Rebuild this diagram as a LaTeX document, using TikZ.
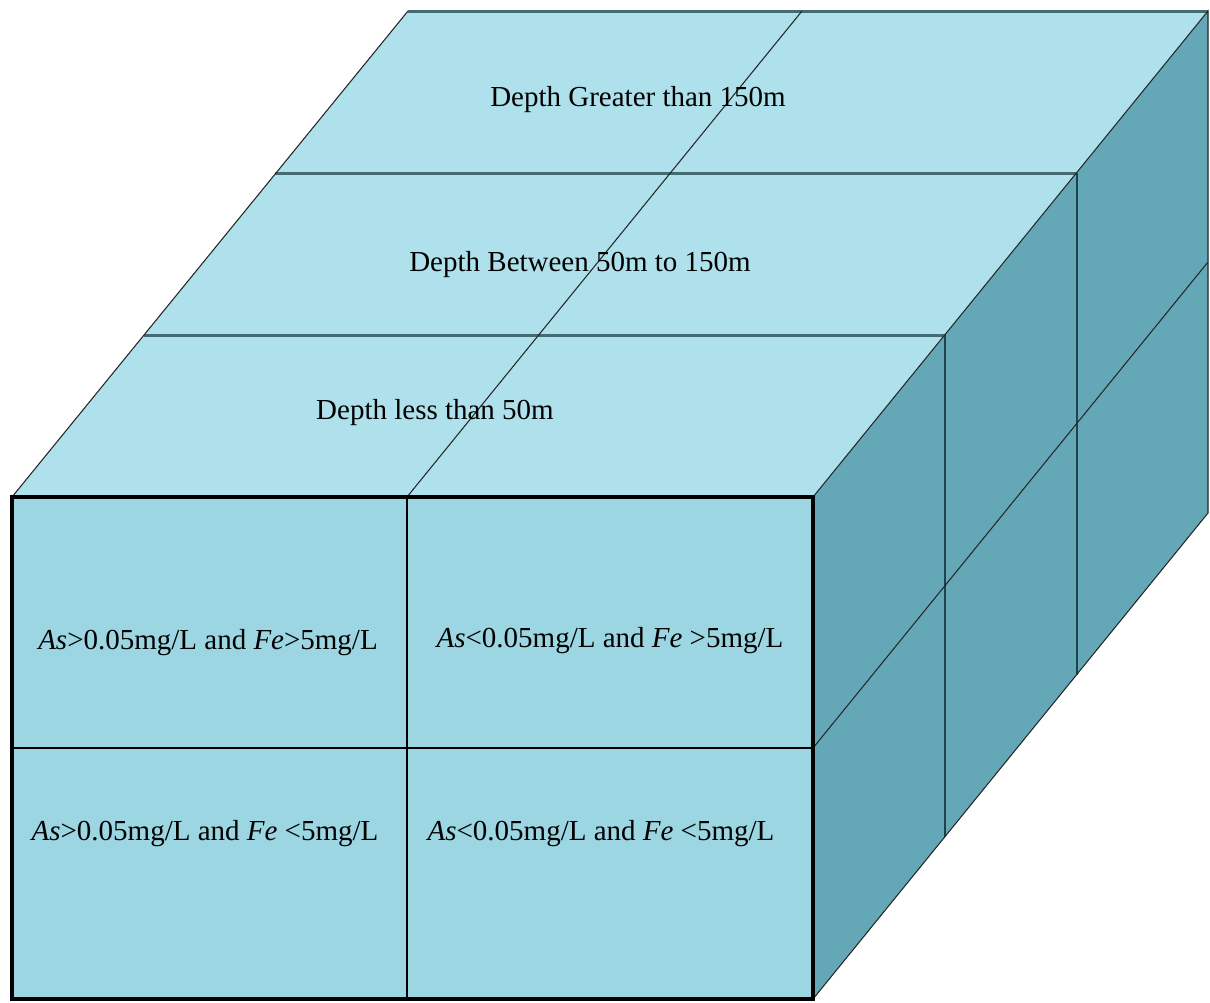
\documentclass[tikz,border=0pt]{standalone}
\usepackage{fontspec}
\setmainfont{Liberation Serif}
\usepackage{xcolor}
\definecolor{topblue}{RGB}{174,225,235}
\definecolor{frontblue}{RGB}{156,214,226}
\definecolor{sideblue}{RGB}{100,168,184}
\definecolor{rowteal}{RGB}{66,108,114}
\definecolor{darkteal}{RGB}{28,68,74}

\begin{document}
\begin{tikzpicture}[x=0.02cm, y=-0.02cm,
    topface/.style={fill=topblue, draw=none},
    sideface/.style={fill=sideblue, draw=none},
    frontface/.style={fill=frontblue, draw=none},
    rowline/.style={draw=rowteal, line width=1.7pt},
    diagline/.style={draw=black!85, line width=0.6pt},
    colline/.style={draw=darkteal, line width=1.2pt},
    gridline/.style={draw=black, line width=1pt},
    frontframe/.style={draw=black, line width=2.8pt, line join=miter},
    lbl/.style={font=\fontsize{16.5}{19}\selectfont, inner sep=0pt}
]
    \useasboundingbox[fill=white] (0,0) rectangle (1210,1002);

    % Corners of the block
    \coordinate (ftl) at (12,497);
    \coordinate (ftr) at (813,497);
    \coordinate (fbl) at (12,999);
    \coordinate (fbr) at (813,999);
    \coordinate (btl) at (408,11);
    \coordinate (btr) at (1208,11);
    \coordinate (bbr) at (1208,513);

    % Faces
    \path[sideface] (ftr) -- (btr) -- (bbr) -- (fbr) -- cycle;
    \path[topface] (ftl) -- (btl) -- (btr) -- (ftr) -- cycle;
    \path[frontface] (ftl) rectangle (fbr);

    % Depth layers on top face
    \coordinate (r1l) at (144,335);
    \coordinate (r1r) at (945,335);
    \coordinate (r2l) at (275,173);
    \coordinate (r2r) at (1077,173);
    \draw[rowline] (btl) -- (btr);
    \draw[rowline] (r2l) -- (r2r);
    \draw[rowline] (r1l) -- (r1r);

    % Layers seen on the side face
    \coordinate (c1b) at (945,837);
    \coordinate (c2b) at (1077,675);
    \draw[colline] (r1r) -- (c1b);
    \draw[colline] (r2r) -- (c2b);

    % Receding edges
    \coordinate (fmt) at (407,497);
    \coordinate (bmt) at (802,11);
    \coordinate (fmr) at (813,748);
    \coordinate (bmr) at (1208,262);
    \draw[diagline] (ftl) -- (btl);
    \draw[diagline] (fmt) -- (bmt);
    \draw[diagline] (ftr) -- (btr) -- (bbr) -- (fbr);
    \draw[diagline] (fmr) -- (bmr);

    % Front face grid
    \coordinate (fml) at (12,748);
    \coordinate (fmb) at (407,999);
    \draw[gridline] (fmt) -- (fmb);
    \draw[gridline] (fml) -- (fmr);
    \draw[frontframe] (ftl) rectangle (fbr);

    % Depth labels
    \node[lbl] (deep) at (638,100) {Depth Greater than 150m};
    \node[lbl] (mid) at (580,265) {Depth Between 50m to 150m};
    \node[lbl] (shallow) at (435,413) {Depth less than 50m};

    % Arsenic / iron classes
    \node[lbl] (hihi) at (208,643) {\textit{As}>0.05mg/L and \textit{Fe}>5mg/L};
    \node[lbl] (lohi) at (610,641) {\textit{As}<0.05mg/L and \textit{Fe} >5mg/L};
    \node[lbl] (hilo) at (205,834) {\textit{As}>0.05mg/L and \textit{Fe} <5mg/L};
    \node[lbl] (lolo) at (601,834) {\textit{As}<0.05mg/L and \textit{Fe} <5mg/L};
\end{tikzpicture}
\end{document}
